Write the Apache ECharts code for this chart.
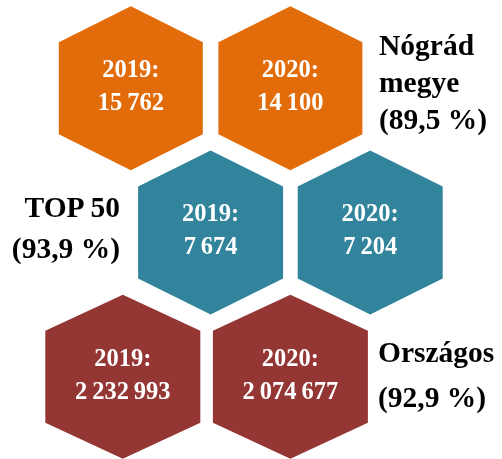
<!DOCTYPE html>
<html>
<head>
<meta charset="utf-8">
<script src="https://cdn.jsdelivr.net/npm/echarts@6/dist/echarts.min.js"></script>
<style>
  html, body { margin: 0; padding: 0; background: #fff; }
  #chart { width: 502px; height: 459px; }
</style>
</head>
<body>
<div id="chart"></div>
<script>
// adatok
const rowLabels = ['Nógrád\nmegye', 'TOP 50', 'Országos'];
const years = ['2019', '2020'];
const values2019 = [15762, 7674, 2232993];
const values2020 = [14100, 7204, 2074677];
const ratios = [89.5, 93.9, 92.9];

// sor stílus / elrendezés
const rowColors = ['#E36C0A', '#31849B', '#943634'];
const rowShift = [0, 0.5, -0.05];
const rowSpread = [1, 1, 1.05];
const rowHexWidth = [144, 145, 155];

const fmtNum = n => String(n).replace(/\B(?=(\d{3})+(?!\d))/g, '\u2009');
const fmtPct = p => p.toFixed(1).replace('.', ',') + ' %';

let hexData = [];
rowLabels.forEach((r, i) => {
    hexData.push([0, i, values2019[i]]);
    hexData.push([1, i, values2020[i]]);
});

const FONT = '"Liberation Serif", "Times New Roman", serif';

function renderHex(params, api) {
    let col = api.value(0);
    let row = api.value(1);
    let pt = api.coord([col * rowSpread[row] + rowShift[row], row]);
    let w = rowHexWidth[row] / 2;
    let h = 82;
    let s = 36;
    let cx = pt[0], cy = pt[1];
    return {
        type: 'group',
        children: [
            {
                type: 'polygon',
                shape: {
                    points: [
                        [cx, cy - h], [cx + w, cy - h + s], [cx + w, cy + h - s],
                        [cx, cy + h], [cx - w, cy + h - s], [cx - w, cy - h + s]
                    ]
                },
                style: { fill: rowColors[row] }
            },
            {
                type: 'text',
                style: {
                    x: cx,
                    y: cy - 1,
                    text: years[col] + ':\n' + fmtNum(api.value(2)),
                    fill: '#fff',
                    fontFamily: FONT,
                    fontWeight: 'bold',
                    fontSize: 24.5,
                    lineHeight: 33,
                    align: 'center',
                    verticalAlign: 'middle'
                }
            }
        ]
    };
}

const labelStyle = {
    fill: '#000',
    fontFamily: FONT,
    fontWeight: 'bold',
    fontSize: 29.5
};

let option = {
    animation: false,
    grid: { left: 51, right: 52, top: 16, bottom: 10 },
    xAxis: { type: 'value', min: -0.5, max: 2, show: false },
    yAxis: { type: 'value', min: -0.5, max: 2.5, inverse: true, show: false },
    graphic: [
        {
            type: 'text', x: 379, y: 29,
            style: Object.assign({ text: rowLabels[0] + '\n(' + fmtPct(ratios[0]) + ')', lineHeight: 37, align: 'left', verticalAlign: 'top' }, labelStyle)
        },
        {
            type: 'text', x: 120, y: 189,
            style: Object.assign({ text: rowLabels[1].replace(' ', '\u2009') + '\n(' + fmtPct(ratios[1]) + ')', lineHeight: 41, align: 'right', verticalAlign: 'top' }, labelStyle)
        },
        {
            type: 'text', x: 378, y: 332,
            style: Object.assign({ text: rowLabels[2] + '\n(' + fmtPct(ratios[2]) + ')', lineHeight: 45, align: 'left', verticalAlign: 'top' }, labelStyle)
        }
    ],
    series: [
        {
            type: 'custom',
            renderItem: renderHex,
            data: hexData,
            silent: true
        }
    ]
};

let myChart = echarts.init(document.getElementById('chart'));
myChart.setOption(option);
</script>
</body>
</html>
